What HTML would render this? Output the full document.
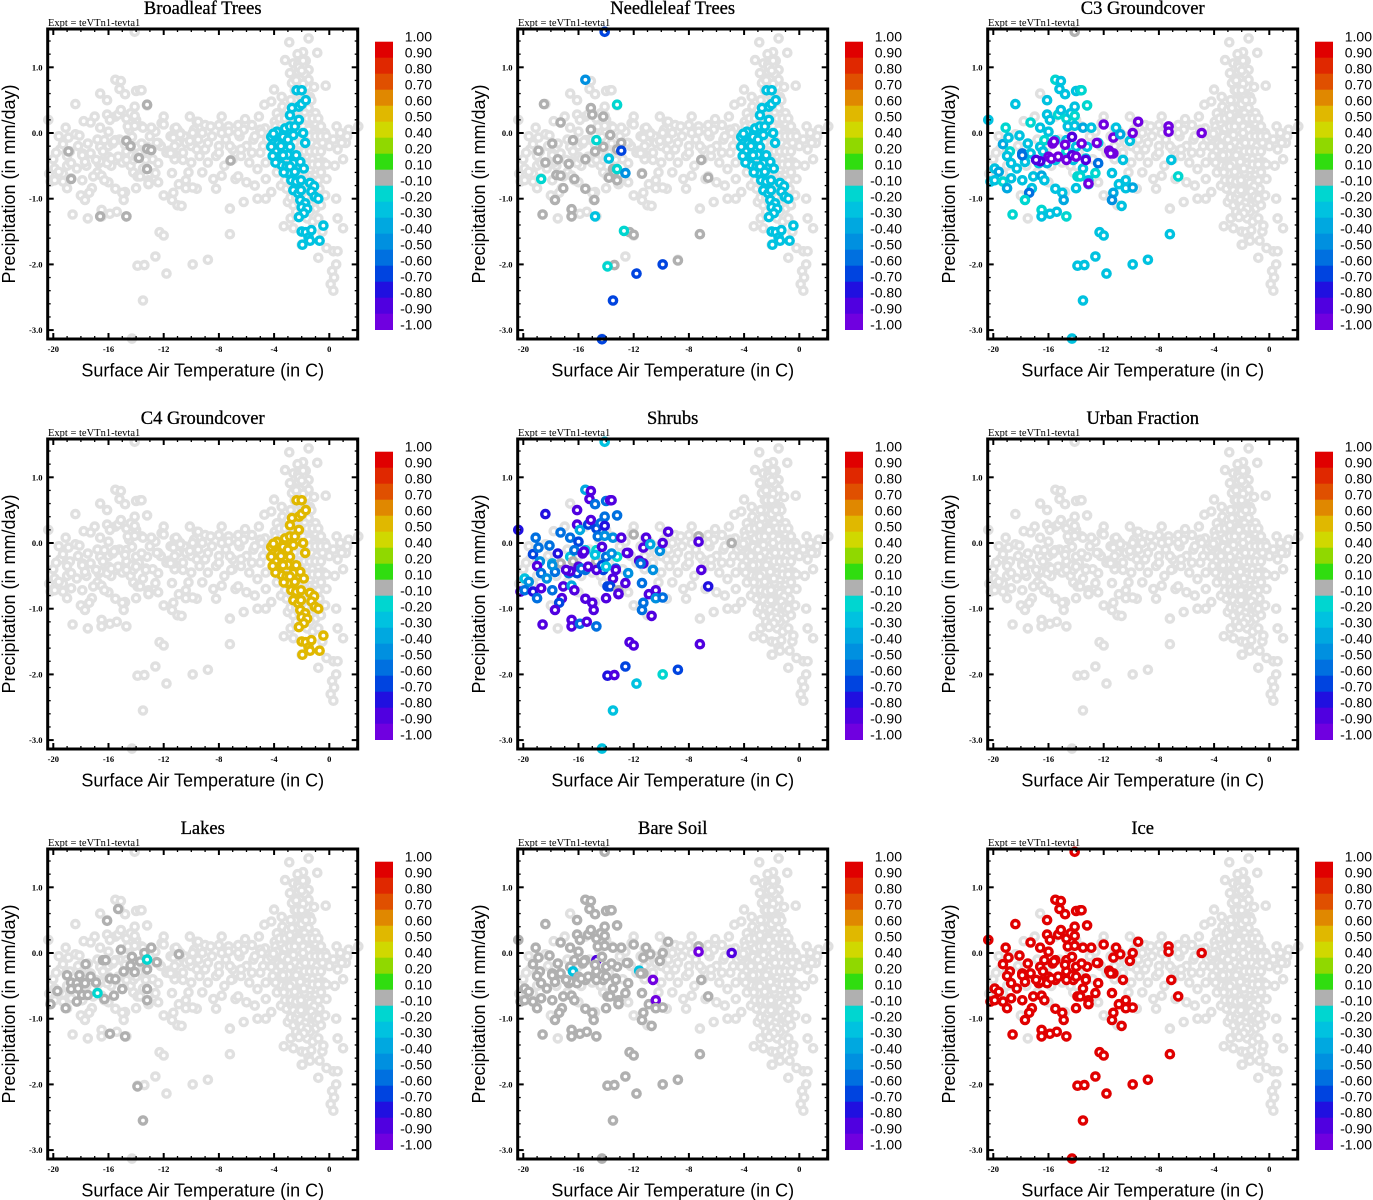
<!DOCTYPE html>
<html><head><meta charset="utf-8">
<style>
html,body{margin:0;padding:0;background:#fff;}
svg{display:block;}
</style></head>
<body>
<svg id="fig" width="1373" height="1200" viewBox="0 0 1373 1200" xmlns="http://www.w3.org/2000/svg"></svg>
<script>
// ---------- shared data ----------
const xTickVals = [-20,-16,-12,-8,-4,0];
const xTickLabels = ['-20','-16','-12','-8','-4','0'];
const yTickVals = [1.0,0.0,-1.0,-2.0,-3.0];
const yTickLabels = ['1.0','0.0','-1.0','-2.0','-3.0'];
const cbBounds = [1.0,0.9,0.8,0.7,0.6,0.5,0.4,0.2,0.1,-0.1,-0.2,-0.3,-0.4,-0.5,-0.6,-0.7,-0.8,-0.9,-1.0];
const cbLabels = ['1.00','0.90','0.80','0.70','0.60','0.50','0.40','0.20','0.10','-0.10','-0.20','-0.30','-0.40','-0.50','-0.60','-0.70','-0.80','-0.90','-1.00'];
const panelTitles = ['Broadleaf Trees','Needleleaf Trees','C3 Groundcover','C4 Groundcover','Shrubs','Urban Fraction','Lakes','Bare Soil','Ice'];

// background-only points (temperature, precipitation)
const bgT = [-1.5,-2.9,-1.9,-0.87,-3.2,-2.6,-2.25,-1.5,-2.25,-2.85,-2.0,-1.5,-2.7,-0.26,-2.5,-1.75,-4.0,-3.45,-1.4,-2.5,-4.2,-4.7,-2.25,-1.5,-3.2,-1.0,-5.1,-6.1,-1.9,-2.7,-3.95,-0.8,0.53,1.4,2.1,-4.65,-5.6,-6.6,-7.8,-8.0,-9.0,-10.1,-9.6,-11.2,-12.0,-12.15,
-11.5,-11,-10.5,-10,-9.5,-9,-8.5,-8,-7.5,-7,-6.5,-6,-5.5,-5,-4.5,-11.8,-11.2,-10.6,-10,-9.4,-8.8,-8.2,-7.6,-7,-6.4,-5.8,-5.2,-4.6,-11,-9.8,-8.6,-7.4,-6.2,-5,-10.2,-9.2,-8.4,-7.8,-6.8,-6,-5.4,-4.6,-4.2,-4.6,-3.3,-8.2,-9.6,-6.2,-5.2,
-7.2,-11.0,
-3.8,-3.4,-3.0,-2.6,-2.2,-1.8,-1.4,-1.0,-0.6,-3.9,-3.5,-3.1,-2.7,-2.3,-1.9,-1.5,-1.1,-0.7,-0.3,0.3,0.8,-3.7,-3.3,-2.9,-2.5,-2.1,-1.7,-1.3,-0.9,-0.5,0.0,0.6,1.2,-3.6,-3.2,-2.8,-2.4,-2.0,-1.6,-1.2,-0.8,-0.4,0.4,1.0,-3.8,-3.4,-3.0,-2.6,-2.2,-1.8,-1.4,-1.0,-0.6,-0.2,-3.5,-3.1,-2.7,-2.3,-1.9,-1.5,-1.1,-0.7,-0.3,-3.0,-2.6,-2.2,-1.8,-1.4,-1.0,-0.6,0.5,-2.8,-2.4,-1.6,-1.2,-0.8,-0.5,-0.2,0.3,0.6,-0.8,-2.6,0.2,0.35,0.5,0.1,0.3,1.0,0.6,0.9,1.3,-2.0,-1.6,-2.4,-1.8,-2.2,-1.7,-1.3,-1.1,-2.8,-1.5,-2.0,
-18.4,-17.8,-19.5,-20.0,-16.8,-17.0,-15.8,-15.0,-14.5,-13.8,-13,-12.6,-12.2,-12.8,-14.2,-16.0,-18.0,-17.5,-14.8,-12.4,-12.0,-20.3,-19.3,-16.6,-14.0,-15.5,
-3.6,-3.2,-2.8,-2.4,-2.0,-1.6,-1.2,-0.8,
-3.4,-3.0,-2.6,-2.2,-1.8,-1.4,-1.0,-0.6,-0.2,
-3.4,-3.0,-2.6,-2.2,-1.8,-1.4,-1.0,-0.6,
-3.2,-2.8,-2.4,-2.0,-1.6,-1.2,-0.8,-0.2,
-3.2,-2.8,-2.4,-2.0,-1.6,-1.2,-0.8,
-2.8,-2.4,-2.0,-1.6,-1.2,-0.8,
-2.4,-2.0,-1.8,-1.4,
-2.0,-1.8,-2.2,-1.9,-2.0,-1.9,-2.3,
-11.2,-10.4,-9.6,-8.8,-8.0,-7.2,-6.4,-5.6,-4.8,-10.8,-9.2,-7.8,-6.6,-5.4,
-19.8,-19.0,-18.2,-17.6,-16.8,-16.0,-15.2,-14.4,-13.6,-19.6];
const bgP = [1.44,1.38,1.23,1.22,1.11,1.06,1.05,0.96,0.93,0.91,0.83,0.81,0.76,0.72,0.65,0.65,0.66,0.55,0.55,0.5,0.48,0.43,0.4,0.38,0.32,0.3,0.25,0.21,0.22,0.2,0.17,0.15,0.1,0.05,0.1,0.07,0.12,0.12,0.25,0.12,0.12,0.25,0.17,0.07,0.25,0.15,
-0.05,-0.15,-0.05,-0.2,-0.1,-0.25,-0.05,-0.2,-0.1,-0.25,-0.05,-0.2,-0.1,-0.3,-0.1,-0.3,-0.4,-0.3,-0.45,-0.35,-0.45,-0.35,-0.5,-0.4,-0.35,-0.45,-0.55,-0.45,0.05,0.05,0.1,0.05,0.05,0.05,-0.6,-0.6,-0.7,-0.65,-0.7,-0.75,-0.8,-0.7,-0.9,-1.0,-1.42,-0.85,-0.85,-1.05,-1.0,
-1.15,-1.1,
0.3,0.4,0.35,0.3,0.25,0.3,0.2,0.15,0.1,0.1,0.15,0.1,0.12,0.05,0.1,0.05,0.0,-0.05,0.0,-0.1,0.0,-0.1,-0.15,-0.1,-0.15,-0.2,-0.1,-0.15,-0.2,-0.15,-0.2,-0.25,-0.15,-0.35,-0.4,-0.35,-0.3,-0.4,-0.35,-0.4,-0.35,-0.45,-0.5,-0.4,-0.6,-0.55,-0.6,-0.65,-0.55,-0.6,-0.55,-0.65,-0.6,-0.7,-0.8,-0.85,-0.8,-0.8,-0.85,-0.8,-0.9,-0.85,-0.95,-1.05,-1.1,-1.05,-1.0,-1.1,-1.15,-1.1,-1.0,-1.3,-1.25,-1.3,-1.35,-1.3,-1.5,-1.75,-1.8,-1.8,-1.9,-1.45,-2.1,-2.2,-2.0,-2.3,-2.4,-1.45,-1.3,-0.15,-0.05,0.6,0.7,0.8,0.9,1.0,1.1,0.5,0.7,0.5,-1.55,-1.7,
-0.02,0.18,-0.25,-0.4,-0.1,0.25,-0.5,-0.45,0.05,-0.3,-0.05,0.02,-0.2,-0.4,-0.6,-0.75,-0.95,-1.3,-0.9,-0.75,-0.95,-0.62,-0.62,0.6,0.2,0.25,
0.22,0.22,0.22,0.22,0.22,0.22,0.22,0.22,
-0.05,-0.05,-0.05,-0.05,-0.05,-0.05,-0.05,-0.05,-0.05,
-0.28,-0.28,-0.28,-0.28,-0.28,-0.28,-0.28,-0.28,
-0.48,-0.48,-0.48,-0.48,-0.48,-0.48,-0.48,-0.48,
-0.72,-0.72,-0.72,-0.72,-0.72,-0.72,-0.72,
-0.98,-0.98,-0.98,-0.98,-0.98,-0.98,
-1.2,-1.2,-1.2,-1.2,
0.45,0.55,0.7,0.75,0.95,1.1,1.2,
-0.2,-0.15,-0.25,-0.15,-0.3,-0.2,-0.25,-0.3,-0.2,0.0,0.0,0.0,0.0,-0.05,
-0.3,-0.5,-0.2,-0.5,-0.6,-0.2,-0.1,-0.5,0.1,-0.05];

// cold-region point set (shared positions)
const lT = [-20.36,-18.4,-19.1,-19.3,-18.9,-18.1,-18.8,-19.0,-18.7,-18.3,
-19.9,-19.6,-20.2,-19.9,-19.3,-19.0,-18.7,-18.6,-17.9,-17.9,
-17.7,-17.5,-17.3,-17.3,-17.1,-17.2,-17.4,-17.7,-16.6,-16.6,
-16.7,-16.5,-16.5,-16.5,-16.1,-16.1,-15.9,-16.0,-16.3,-16.4,
-16.1,-16.3,-15.9,-15.5,-15.1,-15.2,-14.8,-15.3,-15.5,-15.5,
-15.5,-15.4,-15.0,-14.9,-14.7,-15.1,-14.7,-14.4,-14.6,-14.7,
-14.7,-14.2,-14.1,-14.1,-14.0,-13.7,-13.6,-14.1,-14.0,-14.0,
-13.9,-13.2,-13.5,-12.9,-13.2,-13.3,-13.5,-13.7,-13.1,-13.1,
-12.6,-12.4,-12.4,-12.0,-11.6,-11.3,-11.1,-11.3,-10.8,-11.4,
-11.3,-11.4,-10.7,-10.9,-10.6,-10.4,-10.4,-10.1,-9.9,-9.9,
-9.5,-7.3,-7.3,-7.1,-6.6,-4.9,-12.3,-12.0,-7.2,-12.6,
-13.9,-13.4,-11.8,-9.9,-8.8,-13.5,-14.3,-15.7,-15.6,-16.0,
-15.8,-15.3,-16.6,-14.8,-14.7,-14.3,-13.6,-13.3,-12.5,-11.5,
-13.1,-14.3,-16.9,-14.0,-17.9,-14.1];
const lP = [0.2,0.44,0.08,-0.17,-0.07,-0.04,-0.28,-0.35,-0.46,-0.54,
-0.54,-0.59,-0.74,-0.72,-0.74,-0.84,-0.69,-1.24,-0.72,-0.31,
-0.44,-0.16,0.16,-0.31,-0.66,-0.84,-0.91,-1.02,0.08,-0.21,
-0.46,-0.65,-1.17,-1.27,0.5,0.28,0.2,0.02,-0.11,-0.28,
-0.46,-0.72,-1.23,0.81,0.79,0.67,0.59,0.28,-0.11,-0.41,
-0.85,-1.2,-0.91,-1.02,-1.27,0.35,0.22,0.3,0.1,-0.11,
-0.28,-0.41,0.4,0.26,0.64,0.65,0.65,0.11,-0.21,-0.84,
-0.66,0.42,0.08,0.08,-0.21,-0.39,-0.54,-0.66,-0.72,-0.78,
-0.61,-0.46,-0.15,0.13,-0.27,-0.31,0.08,-0.07,-0.02,-0.61,
-0.91,-1.02,-1.11,-0.78,-0.41,-0.72,-0.84,-0.12,0.0,-0.83,
0.17,0.1,0.02,-0.41,-0.66,0.0,-1.51,-1.56,-1.54,-1.88,
-2.02,-2.01,-2.14,-2.0,-1.93,-2.55,-3.13,-0.16,-0.13,-0.36,
-0.39,-0.36,-0.43,-0.18,-0.41,-0.06,-0.16,-0.41,-0.15,-0.31,
-0.77,-0.34,-0.41,-0.36,-0.34,1.54];
const c3V = [-0.25,-0.25,-0.15,-0.4,-0.3,-0.25,-0.15,-0.3,-0.25,-0.3,
-0.3,-0.35,-0.3,-0.3,-0.15,-0.35,-0.25,-0.15,-0.3,-0.55,
-0.3,-0.25,-0.15,-0.3,-0.25,-0.3,-0.6,-0.15,-0.25,-0.25,
-0.25,-0.35,-0.15,-0.25,-0.3,-0.3,-0.3,-0.25,-0.15,-0.3,
-0.35,-0.25,-0.3,-0.15,-0.25,-0.25,-0.3,-0.15,-0.25,-0.3,
-0.25,-0.3,-0.3,-0.35,-0.15,-0.25,-0.15,-0.25,-0.3,-0.25,
-0.15,-0.25,-0.25,-0.15,-0.25,-0.25,-0.15,-0.3,-0.25,-0.25,
-0.15,-0.15,-0.35,-0.3,-0.3,-0.25,-0.25,-0.15,-0.3,-0.25,
-0.15,-0.55,-0.25,-0.95,-0.95,-0.95,-0.3,-0.95,-0.35,-0.3,
-0.35,-0.45,-0.3,-0.3,-0.3,-0.3,-0.3,-0.3,-0.95,-0.4,
-0.95,-0.95,-0.95,-0.3,-0.15,-0.95,-0.25,-0.3,-0.3,-0.25,
-0.25,-0.25,-0.3,-0.3,-0.3,-0.3,-0.3,-0.95,-0.95,-0.95,
-0.95,-0.95,-0.9,-0.95,-0.95,-0.9,-0.95,-0.9,-0.95,-0.95,
-0.95,-0.9,-0.9,-0.95,-0.6,-0.05];
const shrubV = [-0.8,-0.75,-0.6,-0.7,-0.6,-0.55,-0.5,-0.85,-0.6,-0.45,
-0.3,-0.5,-0.85,-0.6,-0.75,-0.6,-0.85,-0.85,-0.6,-0.35,
-0.55,-0.75,-0.6,-0.05,-0.85,-0.85,-0.7,-0.85,-0.6,-0.3,
-0.55,-0.4,-0.85,-0.85,-0.85,-0.85,-0.4,-0.7,-0.6,-0.05,
-0.7,-0.85,-0.6,-0.4,-0.85,-0.85,-0.6,-0.7,-0.3,-0.6,
-0.85,-0.85,-0.85,-0.85,-0.6,-0.85,-0.7,-0.6,-0.55,-0.2,
-0.05,-0.7,-0.55,-0.75,-0.6,-0.85,-0.85,-0.5,-0.55,-0.85,
-0.7,-0.6,-0.5,-0.85,-0.2,-0.6,-0.85,-0.7,-0.05,-0.85,
-0.85,-0.5,-0.85,-0.05,-0.85,-0.85,-0.85,-0.85,-0.4,-0.55,
-0.55,-0.6,-0.85,-0.85,-0.5,-0.85,-0.5,-0.5,-0.85,-0.55,
-0.85,-0.05,-0.85,-0.85,-0.75,-0.05,-0.85,-0.85,-0.85,-0.7,
-0.75,-0.85,-0.25,-0.2,-0.7,-0.25,-0.25,-0.85,-0.85,-0.85,
-0.6,-0.85,-0.85,-0.25,-0.85,-0.85,-0.5,-0.85,-0.85,-0.55,
-0.85,-0.7,-0.85,-0.25,-0.5,-0.25];
const bareV = [-0.05,-0.05,-0.05,-0.05,-0.05,-0.05,-0.05,-0.05,-0.05,-0.05,
-0.05,-0.05,-0.05,-0.05,-0.05,-0.05,-0.05,-0.05,-0.05,-0.05,
-0.05,-0.05,-0.05,-0.05,-0.05,-0.05,-0.05,-0.05,-0.05,-0.05,
-0.05,-0.05,-0.05,-0.05,-0.05,-0.05,-0.05,-0.05,-0.05,-0.25,
-0.05,-0.05,-0.05,-0.05,-0.05,-0.05,-0.05,-0.05,-0.05,-0.05,
-0.05,-0.05,-0.05,-0.05,-0.05,-0.05,-0.05,-0.05,-0.05,-0.9,
-0.05,-0.05,-0.05,-0.05,-0.05,-0.05,-0.05,-0.05,-0.05,-0.05,
-0.05,-0.05,-0.05,-0.05,-0.05,-0.05,-0.05,-0.05,-0.05,-0.05,
-0.05,-0.05,-0.05,-0.05,-0.25,-0.05,-0.05,-0.05,-0.05,-0.05,
-0.05,-0.05,-0.05,-0.05,-0.95,-0.95,-0.05,-0.05,-0.05,-0.05,
-0.05,-0.05,-0.95,-0.05,-0.05,-0.9,-0.05,-0.05,-0.05,-0.05,
-0.05,-0.05,-0.05,-0.05,-0.05,-0.05,-0.05,-0.05,-0.05,-0.05,
-0.05,-0.05,-0.05,-0.05,-0.05,-0.05,-0.05,-0.05,-0.05,-0.05,
-0.05,-0.05,-0.05,-0.05,-0.05,-0.05];
const iceV = [0.95,0.95,0.95,0.95,0.95,0.95,0.95,0.95,0.95,0.95,
0.95,0.95,0.95,0.95,0.95,0.95,0.95,0.95,0.95,0.95,
0.95,0.95,0.95,0.95,0.95,0.95,0.95,0.95,0.95,0.95,
0.95,0.95,0.95,0.95,0.95,0.95,0.95,0.95,0.95,0.95,
0.95,0.95,0.95,0.95,0.95,0.95,0.95,0.95,0.95,0.95,
0.95,0.95,0.95,0.95,0.95,0.95,0.95,0.95,0.95,0.95,
0.95,0.95,0.95,0.95,0.95,0.95,0.95,0.95,0.95,0.95,
0.95,0.95,0.95,0.95,0.95,0.95,0.95,0.95,0.95,0.95,
0.95,0.95,0.95,0.95,0.95,0.95,0.95,0.95,0.95,0.95,
0.95,0.95,0.95,0.95,0.95,0.95,0.95,0.95,0.95,0.95,
0.95,0.95,0.95,0.95,0.95,0.95,0.95,0.95,0.95,0.95,
0.95,0.95,0.95,0.95,0.95,0.95,0.95,0.95,0.95,0.95,
0.95,0.95,0.95,0.95,0.95,0.95,0.95,0.95,0.95,0.95,
0.95,0.95,0.95,0.95,0.95,0.95];

// warm-region point set (shared positions)
const rT = [-2.37,-2.0,-2.85,-2.7,-2.2,-2.0,-1.7,-2.2,-1.9,-1.75,
-4.2,-4.05,-3.8,-3.6,-3.2,-3.1,-2.85,-2.5,-2.6,-3.9,
-3.6,-3.2,-2.85,-3.45,-3.1,-2.6,-2.4,-2.6,-2.1,-1.85,
-3.0,-2.75,-2.4,-2.05,-2.6,-2.25,-2.05,-1.4,-1.1,-1.3,
-1.05,-0.8,-2.1,-1.75,-2.0,-1.6,-1.85,-2.2,-0.43,-2.0,
-1.7,-1.3,-1.5,-1.4,-1.95,-0.7,-4.2,-3.8,-3.7,-3.35,
-3.0,-2.85,-2.5,-3.35,-4.05,-3.9,-3.5,-3.0,-4.1,-3.3];
const rP = [0.65,0.65,0.27,0.38,0.4,0.44,0.5,0.2,0.0,-0.15,
-0.06,-0.16,0.02,-0.11,0.07,-0.06,0.1,0.1,-0.03,-0.28,
-0.36,-0.23,-0.21,-0.49,-0.51,-0.36,-0.34,-0.46,-0.44,-0.54,
-0.61,-0.72,-0.74,-0.72,-0.87,-0.92,-0.87,-0.76,-0.81,-0.89,
-0.97,-1.0,-1.02,-1.07,-1.13,-1.15,-1.22,-1.28,-1.41,-1.5,
-1.51,-1.48,-1.59,-1.64,-1.7,-1.64,-0.21,-0.41,-0.16,-0.06,
-0.33,-0.51,-0.59,-0.34,-0.01,-0.45,-0.2,-0.1,-0.35,-0.6];
const broadV = [-0.25,-0.25,-0.25,-0.25,-0.25,-0.25,-0.25,-0.25,-0.25,-0.25,
-0.25,-0.25,-0.25,-0.25,-0.25,-0.25,-0.25,-0.25,-0.25,-0.25,
-0.25,-0.25,-0.25,-0.25,-0.25,-0.25,-0.25,-0.25,-0.25,-0.25,
-0.25,-0.25,-0.25,-0.25,-0.25,-0.25,-0.25,-0.25,-0.25,-0.25,
-0.25,-0.25,-0.25,-0.25,-0.25,-0.25,-0.25,-0.25,-0.25,-0.25,
-0.25,-0.25,-0.25,-0.25,-0.25,-0.25,-0.25,-0.25,-0.25,-0.25,
-0.25,-0.25,-0.25,-0.25,-0.25,-0.25,-0.25,-0.25,-0.25,-0.25];
const needleV = [-0.25,-0.25,-0.25,-0.25,-0.25,-0.25,-0.25,-0.25,-0.25,-0.25,
-0.25,-0.25,-0.25,-0.25,-0.25,-0.25,-0.25,-0.25,-0.25,-0.25,
-0.25,-0.25,-0.25,-0.25,-0.25,-0.25,-0.25,-0.25,-0.25,-0.25,
-0.25,-0.25,-0.25,-0.25,-0.25,-0.25,-0.25,-0.25,-0.25,-0.25,
-0.25,-0.25,-0.25,-0.25,-0.25,-0.25,-0.25,-0.25,-0.25,-0.25,
-0.25,-0.25,-0.25,-0.25,-0.25,-0.25,-0.25,-0.25,-0.25,-0.25,
-0.25,-0.25,-0.25,-0.25,-0.25,-0.25,-0.25,-0.25,-0.25,-0.25];
const c4V = [0.55,0.55,0.55,0.55,0.55,0.55,0.55,0.55,0.55,0.55,
0.55,0.55,0.55,0.55,0.55,0.55,0.55,0.55,0.55,0.55,
0.55,0.55,0.55,0.55,0.55,0.55,0.55,0.55,0.55,0.55,
0.55,0.55,0.55,0.55,0.55,0.55,0.55,0.55,0.55,0.55,
0.55,0.55,0.55,0.55,0.55,0.55,0.55,0.55,0.55,0.55,
0.55,0.55,0.55,0.55,0.55,0.55,0.55,0.55,0.55,0.55,
0.55,0.55,0.55,0.55,0.55,0.55,0.55,0.55,0.55,0.55];

// sporadic per-panel points
const broadExT = [-18.9,-18.7,-16.6,-14.7,-14.7,-14.4,-13.8,-13.2,-13.2,-12.9,-13.2,-7.15];
const broadExP = [-0.28,-0.7,-1.27,-1.27,-0.12,-0.2,-0.38,0.43,-0.24,-0.26,-0.55,-0.42];
const broadExV = [-0.05,-0.05,-0.05,-0.05,-0.05,-0.05,-0.05,-0.05,-0.05,-0.05,-0.05,-0.05];
const needleExT = [-18.5,-15.1,-15.0,-14.2,-17.3,-15.1,-13.7,-16.4,-17.9,-12.9,-18.9,-14.8,-14.2,-13.2,-17.5,-16.7,-15.5,-18.4,-13.5,-13.4,-13.8,-13.2,-16.3,-17.6,-17.3,-17.1,-15.5,-14.85,-17.7,-16.5,-16.5,-18.6,-11.4,-7.1,-6.6,-7.2,-12.3,-12.0,-13.4,-8.8,
-13.2,-14.7,-13.8,-13.2,-18.7,-14.8,-12.7,-13.9,
-15.5,-12.6,-12.9,-11.8,-9.9,-13.5,-14.1,-14.3];
const needleExP = [0.44,0.38,0.28,0.25,0.16,0.05,-0.03,-0.11,-0.16,-0.15,-0.27,-0.28,-0.21,-0.25,-0.4,-0.47,-0.4,-0.45,-0.55,-0.59,-0.68,-0.72,-0.7,-0.64,-0.65,-0.84,-0.85,-1.02,-1.02,-1.16,-1.27,-1.24,-0.62,-0.41,-0.68,-1.54,-1.51,-1.55,-2.01,-1.94,
0.43,-0.11,-0.39,-0.55,-0.7,-1.27,-1.49,-2.03,
0.81,-0.61,-0.27,-2.14,-2.0,-2.55,1.54,-3.14];
const needleExV = [-0.05,-0.05,-0.05,-0.05,-0.05,-0.05,-0.05,-0.05,-0.05,-0.05,-0.05,-0.05,-0.05,-0.05,-0.05,-0.05,-0.05,-0.05,-0.05,-0.05,-0.05,-0.05,-0.05,-0.05,-0.05,-0.05,-0.05,-0.05,-0.05,-0.05,-0.05,-0.05,-0.05,-0.05,-0.05,-0.05,-0.05,-0.05,-0.05,-0.05,
-0.15,-0.15,-0.25,-0.15,-0.15,-0.25,-0.15,-0.15,
-0.45,-0.45,-0.65,-0.65,-0.65,-0.65,-0.65,-0.65];
const lakeExT = [-15.3,-16.1,-15.1,-14.3,-13.4,-12.9,-13.7,-12.5,-10.9,-17.65,-14.4,-14.9,-14.1,-13.2,-16.4,-16.2,-18.1,-17.3,-19.0,-15.9,-15.5,-16.9,-18.7,-18.3,-17.7,-18.7,-18.2,-15.0,-13.2,-19.7,-17.9,-17.5,-16.3,-15.6,-13.2,-18.3,-19.1,-20.2,-15.9,-14.8,-13.9,-13.5,
-16.8,-13.2];
const lakeExP = [0.67,0.49,0.05,-0.06,0.0,0.08,-0.13,-0.14,-0.02,-0.17,-0.19,-0.28,-0.29,-0.25,-0.11,-0.11,-0.34,-0.36,-0.34,-0.39,-0.4,-0.45,-0.45,-0.46,-0.46,-0.55,-0.54,-0.55,-0.55,-0.58,-0.64,-0.64,-0.7,-0.65,-0.72,-0.74,-0.84,-0.78,-1.23,-1.27,-2.03,-2.55,
-0.61,-0.1];
const lakeExV = [-0.05,-0.05,-0.05,-0.05,-0.05,-0.05,-0.05,-0.05,-0.05,-0.05,-0.05,-0.05,-0.05,-0.05,-0.05,-0.05,-0.05,-0.05,-0.05,-0.05,-0.05,-0.05,-0.05,-0.05,-0.05,-0.05,-0.05,-0.05,-0.05,-0.05,-0.05,-0.05,-0.05,-0.05,-0.05,-0.05,-0.05,-0.05,-0.05,-0.05,-0.05,-0.05,
-0.15,-0.15];

// ---------- rendering ----------
const cbColors = ['#e00000','#e02800','#e05000','#e08800','#e0b800','#d0d800','#90d800','#30dd10','#b0b0b0','#00d6d0','#00c2e0','#00a8e0','#0090e0','#0070e0','#0044e0','#2010e0','#5000e0','#7000e0'];
const NS = 'http://www.w3.org/2000/svg';
const svg = document.getElementById('fig');
function mk(tag, attrs, parent){
  const e = document.createElementNS(NS, tag);
  for (const k in attrs) e.setAttribute(k, attrs[k]);
  (parent || svg).appendChild(e);
  return e;
}
function colorFor(v){
  for (let i = 0; i < cbColors.length; i++){
    if (v <= cbBounds[i] && v >= cbBounds[i+1]) return cbColors[i];
  }
  return '#b0b0b0';
}
const PL = 47.7, PT = 29, PW = 310, PH = 310;
function xScale(ox, t){ return ox + 53.3 + (t + 20) * 13.8; }
function yScale(oy, p){ return oy + 133 - p * 65.7; }

const panelSets = [
  {R: broadV, exT: broadExT, exP: broadExP, exV: broadExV},
  {R: needleV, exT: needleExT, exP: needleExP, exV: needleExV},
  {L: c3V},
  {R: c4V},
  {L: shrubV},
  {},
  {exT: lakeExT, exP: lakeExP, exV: lakeExV},
  {L: bareV},
  {L: iceV}
];

function dot(g, x, y, col, name){
  const c = mk('circle', {cx: x.toFixed(1), cy: y.toFixed(1), r: 3.6, fill: '#fff', stroke: col, 'stroke-width': 3.4}, g);
  
  
}

panelTitles.forEach((title, pi) => {
  const ox = (pi % 3) * 470, oy = Math.floor(pi / 3) * 410;
  const slug = title.toLowerCase().replace(/\s+/g, '-');
  const g = mk('g', {});
  
  

  const t = mk('text', {x: ox + 202.7, y: oy + 14, 'text-anchor': 'middle', 'font-family': '"Liberation Serif", serif', 'font-size': 18.5, stroke: '#000', 'stroke-width': 0.3}, g);
  t.textContent = title;
  
  
  const ex = mk('text', {x: ox + 48, y: oy + 26, 'font-family': '"Liberation Serif", serif', 'font-size': 10.5}, g);
  ex.textContent = 'Expt = teVTn1-tevta1';
  
  

  const bgG = mk('g', {}, g);
  
  
  for (let i = 0; i < bgT.length; i++) dot(bgG, xScale(ox, bgT[i]), yScale(oy, bgP[i]), '#e0e0e0', 'background-point');
  for (let i = 0; i < lT.length; i++) dot(bgG, xScale(ox, lT[i]), yScale(oy, lP[i]), '#e0e0e0', 'background-point');
  for (let i = 0; i < rT.length; i++) dot(bgG, xScale(ox, rT[i]), yScale(oy, rP[i]), '#e0e0e0', 'background-point');

  const set = panelSets[pi];
  const cg = mk('g', {}, g);
  
  
  if (set.exT) for (let i = 0; i < set.exT.length; i++) dot(cg, xScale(ox, set.exT[i]), yScale(oy, set.exP[i]), colorFor(set.exV[i]), 'data-point');
  if (set.L) for (let i = 0; i < lT.length; i++) dot(cg, xScale(ox, lT[i]), yScale(oy, lP[i]), colorFor(set.L[i]), 'data-point');
  if (set.R) for (let i = 0; i < rT.length; i++) dot(cg, xScale(ox, rT[i]), yScale(oy, rP[i]), colorFor(set.R[i]), 'data-point');

  const tg = mk('g', {stroke: '#000'}, g);
  
  
  const x0 = ox + PL, x1 = ox + PL + PW, y0 = oy + PT, y1 = oy + PT + PH;
  for (let v = -20; v <= 2; v++){
    const x = xScale(ox, v), major = (v % 4 === 0) && v <= 0;
    const len = major ? 6 : 3, w = major ? 2 : 1.3;
    mk('line', {x1: x, y1: y1, x2: x, y2: y1 - len, 'stroke-width': w}, tg);
    mk('line', {x1: x, y1: y0, x2: x, y2: y0 + len, 'stroke-width': w}, tg);
  }
  for (let k = -15; k <= 7; k++){
    const v = k * 0.2, y = yScale(oy, v), major = (k % 5 === 0);
    const len = major ? 6 : 3, w = major ? 2 : 1.3;
    mk('line', {x1: x0, y1: y, x2: x0 + len, y2: y, 'stroke-width': w}, tg);
    mk('line', {x1: x1, y1: y, x2: x1 - len, y2: y, 'stroke-width': w}, tg);
  }
  const fr = mk('rect', {x: x0, y: y0, width: PW, height: PH, fill: 'none', stroke: '#000', 'stroke-width': 3}, g);
  
  

  xTickVals.forEach((v, i) => {
    const tl = mk('text', {x: xScale(ox, v), y: oy + 352, 'text-anchor': 'middle', 'font-family': '"Liberation Serif", serif', 'font-size': 8.5, 'font-weight': 'bold'}, g);
    tl.textContent = xTickLabels[i];
    
    
  });
  yTickVals.forEach((v, i) => {
    const tl = mk('text', {x: ox + 42.5, y: yScale(oy, v) + 3, 'text-anchor': 'end', 'font-family': '"Liberation Serif", serif', 'font-size': 8.5, 'font-weight': 'bold'}, g);
    tl.textContent = yTickLabels[i];
    
    
  });
  const xl = mk('text', {x: ox + 202.7, y: oy + 376.5, 'text-anchor': 'middle', 'font-family': '"Liberation Sans", sans-serif', 'font-size': 18}, g);
  xl.textContent = 'Surface Air Temperature (in C)';
  
  
  const yl = mk('text', {x: 0, y: 0, 'text-anchor': 'middle', 'font-family': '"Liberation Sans", sans-serif', 'font-size': 18, transform: 'translate(' + (ox + 15) + ',' + (oy + 184) + ') rotate(-90)'}, g);
  yl.textContent = 'Precipitation (in mm/day)';
  
  

  const cb = mk('g', {}, g);
  
  
  for (let i = 0; i < cbColors.length; i++){
    const r = mk('rect', {x: ox + 375, y: oy + 41.7 + i * 16, width: 18, height: 16.3, fill: cbColors[i]}, cb);
    
    
  }
  cbLabels.forEach((lab, i) => {
    const tl = mk('text', {x: ox + 432, y: oy + 41.7 + i * 16, 'text-anchor': 'end', 'font-family': '"Liberation Sans", sans-serif', 'font-size': 14}, cb);
    tl.textContent = lab;
    
    
  });
});
</script>
</body></html>
